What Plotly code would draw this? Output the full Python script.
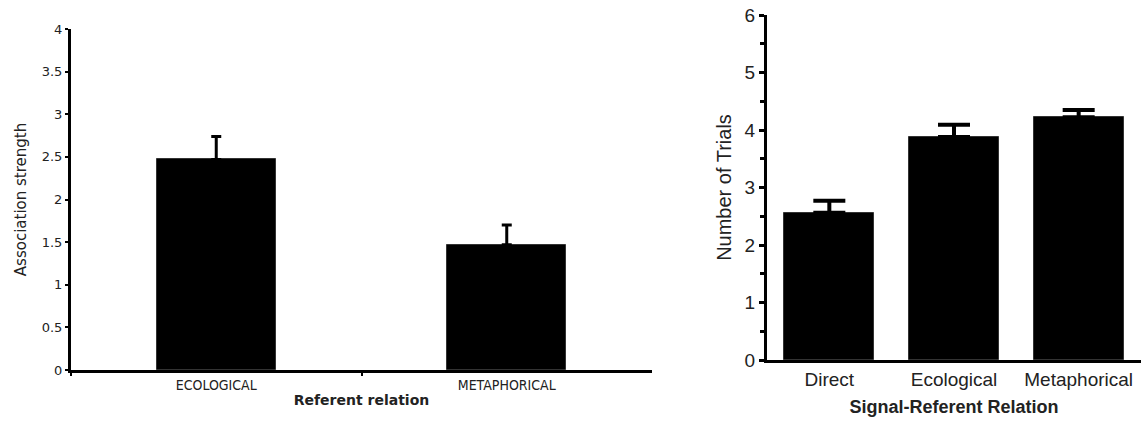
import plotly.graph_objects as go

W, H = 1141, 421

# Left panel data
left_categories = ["ECOLOGICAL", "METAPHORICAL"]
left_values = [2.47, 1.47]
left_errors = [0.27, 0.23]

# Right panel data
right_categories = ["Direct", "Ecological", "Metaphorical"]
right_values = [2.56, 3.88, 4.22]
right_errors = [0.21, 0.21, 0.13]

fig = go.Figure()

fig.add_trace(go.Bar(
    x=left_categories, y=left_values, xaxis="x", yaxis="y",
    width=0.41, marker=dict(color="black", line=dict(color="#333", width=1)),
    error_y=dict(type="data", symmetric=False, array=left_errors,
                 arrayminus=[0] * len(left_errors),
                 color="black", thickness=3, width=5),
    showlegend=False,
))

fig.add_trace(go.Bar(
    x=right_categories, y=right_values, xaxis="x2", yaxis="y2",
    width=0.72, marker=dict(color="black", line=dict(color="#333", width=1)),
    error_y=dict(type="data", symmetric=False, array=right_errors,
                 arrayminus=[0] * len(right_errors),
                 color="black", thickness=4, width=16),
    showlegend=False,
))

left_font = "DejaVu Sans Condensed, DejaVu Sans, sans-serif"
verdana = "DejaVu Sans, Verdana, sans-serif"
right_font = "Liberation Sans, Arial, sans-serif"

fig.update_layout(
    width=W, height=H,
    margin=dict(l=0, r=0, t=0, b=0),
    plot_bgcolor="white", paper_bgcolor="white",
    bargap=0,
    xaxis=dict(
        domain=[71 / W, 652 / W], range=[-0.5, 1.5], type="category",
        showline=True, linecolor="black", linewidth=3,
        ticks="outside", tickson="boundaries", ticklen=3, tickwidth=2, tickcolor="black",
        tickfont=dict(family=left_font, size=14, color="#222"),
        title=dict(text="Referent relation", standoff=4,
                   font=dict(family=verdana, size=14, color="#222", weight="bold")),
        showgrid=False, zeroline=False, fixedrange=True, automargin=False,
    ),
    yaxis=dict(
        domain=[(H - 370) / H, (H - 29) / H], range=[0, 4],
        tickvals=[0, 0.5, 1, 1.5, 2, 2.5, 3, 3.5, 4],
        ticktext=["0", "0.5", "1", "1.5", "2", "2.5", "3", "3.5", "4"],
        showline=True, linecolor="black", linewidth=3,
        ticks="outside", ticklen=3, tickwidth=2, tickcolor="black",
        tickfont=dict(family=verdana, size=13, color="#222"),
        title=dict(text="Association strength", standoff=12,
                   font=dict(family=verdana, size=15, color="#222")),
        showgrid=False, zeroline=False, fixedrange=True, automargin=False,
    ),
    xaxis2=dict(
        domain=[767 / W, 1.0], range=[-0.5, 2.5], type="category",
        showline=True, linecolor="black", linewidth=3,
        ticks="", tickfont=dict(family=right_font, size=19, color="#222"),
        title=dict(text="Signal-Referent Relation", standoff=12,
                   font=dict(family=right_font, size=18, color="#222", weight="bold")),
        showgrid=False, zeroline=False, fixedrange=True, anchor="y2", automargin=False,
    ),
    yaxis2=dict(
        domain=[(H - 360) / H, (H - 15) / H], range=[0, 6], anchor="x2",
        tickvals=[0, 1, 2, 3, 4, 5, 6],
        showline=True, linecolor="black", linewidth=3,
        ticks="outside", ticklen=5, tickwidth=3, tickcolor="black",
        minor=dict(tickvals=[0.5, 1.5, 2.5, 3.5, 4.5, 5.5], ticks="outside",
                   ticklen=4, tickwidth=3, tickcolor="black"),
        tickfont=dict(family=right_font, size=19, color="#222"),
        title=dict(text="Number of Trials", standoff=8,
                   font=dict(family=right_font, size=20, color="#222")),
        showgrid=False, zeroline=False, fixedrange=True, automargin=False,
    ),
)

fig.write_html("out.html", config={"displayModeBar": False},
               post_script="document.body.style.margin='0';")
